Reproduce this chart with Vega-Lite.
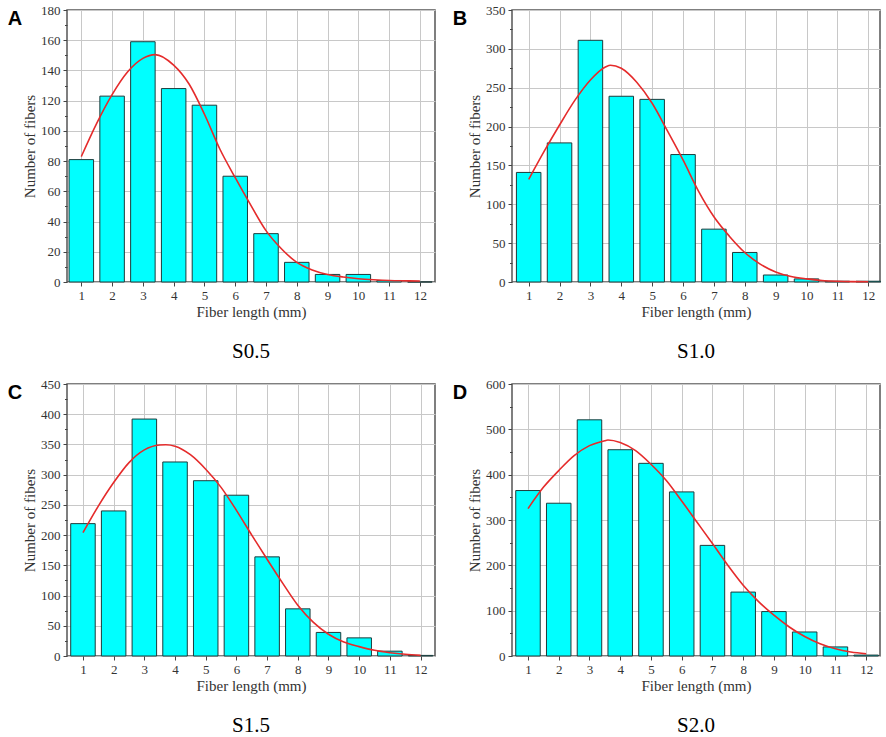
{
  "$schema": "https://vega.github.io/schema/vega-lite/v6.json",
  "background": "white",
  "padding": {"left": 7, "top": 3, "right": 1, "bottom": 1},
  "columns": 2,
  "spacing": {"row": 14, "column": 16},
  "datasets": {
    "barsA": [
      {"length": 1, "count": 81}, {"length": 2, "count": 123}, {"length": 3, "count": 159}, {"length": 4, "count": 128},
      {"length": 5, "count": 117}, {"length": 6, "count": 70}, {"length": 7, "count": 32}, {"length": 8, "count": 13},
      {"length": 9, "count": 5}, {"length": 10, "count": 5}, {"length": 11, "count": 1}, {"length": 12, "count": 0}
    ],
    "fitA": [
      {"length": 1, "count": 83}, {"length": 1.5, "count": 105}, {"length": 2, "count": 124}, {"length": 2.5, "count": 139},
      {"length": 3, "count": 148}, {"length": 3.4, "count": 150.5}, {"length": 4, "count": 143.5}, {"length": 4.5, "count": 131},
      {"length": 5, "count": 111}, {"length": 5.5, "count": 88}, {"length": 6, "count": 69}, {"length": 6.5, "count": 51},
      {"length": 7, "count": 34}, {"length": 7.5, "count": 22}, {"length": 8, "count": 13}, {"length": 8.5, "count": 8},
      {"length": 9, "count": 5}, {"length": 9.5, "count": 3.3}, {"length": 10, "count": 2.2}, {"length": 10.5, "count": 1.5},
      {"length": 11, "count": 1}, {"length": 11.5, "count": 0.8}, {"length": 12, "count": 0.7}
    ],
    "barsB": [
      {"length": 1, "count": 141}, {"length": 2, "count": 179}, {"length": 3, "count": 311}, {"length": 4, "count": 239},
      {"length": 5, "count": 235}, {"length": 6, "count": 164}, {"length": 7, "count": 68}, {"length": 8, "count": 38},
      {"length": 9, "count": 9}, {"length": 10, "count": 4}, {"length": 11, "count": 1}, {"length": 12, "count": 1}
    ],
    "fitB": [
      {"length": 1, "count": 132}, {"length": 1.5, "count": 168}, {"length": 2, "count": 202}, {"length": 2.5, "count": 234},
      {"length": 3, "count": 260}, {"length": 3.5, "count": 277}, {"length": 3.65, "count": 279}, {"length": 4, "count": 275},
      {"length": 4.5, "count": 257}, {"length": 5, "count": 230}, {"length": 5.5, "count": 194}, {"length": 6, "count": 157},
      {"length": 6.5, "count": 117}, {"length": 7, "count": 84}, {"length": 7.5, "count": 59}, {"length": 8, "count": 38},
      {"length": 8.5, "count": 23}, {"length": 9, "count": 13}, {"length": 9.5, "count": 7}, {"length": 10, "count": 4},
      {"length": 10.5, "count": 2}, {"length": 11, "count": 1}, {"length": 11.5, "count": 0.5}, {"length": 12, "count": 0.3}
    ],
    "barsC": [
      {"length": 1, "count": 219}, {"length": 2, "count": 240}, {"length": 3, "count": 392}, {"length": 4, "count": 321},
      {"length": 5, "count": 290}, {"length": 6, "count": 266}, {"length": 7, "count": 164}, {"length": 8, "count": 78},
      {"length": 9, "count": 39}, {"length": 10, "count": 30}, {"length": 11, "count": 8}, {"length": 12, "count": 1}
    ],
    "fitC": [
      {"length": 1, "count": 204}, {"length": 1.5, "count": 248}, {"length": 2, "count": 287}, {"length": 2.5, "count": 320},
      {"length": 3, "count": 341}, {"length": 3.5, "count": 349}, {"length": 3.7, "count": 349.5}, {"length": 4, "count": 347},
      {"length": 4.5, "count": 333}, {"length": 5, "count": 309}, {"length": 5.5, "count": 279}, {"length": 6, "count": 241},
      {"length": 6.5, "count": 200}, {"length": 7, "count": 160}, {"length": 7.5, "count": 121}, {"length": 8, "count": 84},
      {"length": 8.5, "count": 56}, {"length": 9, "count": 36}, {"length": 9.5, "count": 23}, {"length": 10, "count": 15.5},
      {"length": 10.5, "count": 9.4}, {"length": 11, "count": 5.5}, {"length": 11.5, "count": 2.8}, {"length": 12, "count": 1.1}
    ],
    "barsD": [
      {"length": 1, "count": 365}, {"length": 2, "count": 337}, {"length": 3, "count": 521}, {"length": 4, "count": 455},
      {"length": 5, "count": 425}, {"length": 6, "count": 362}, {"length": 7, "count": 244}, {"length": 8, "count": 141},
      {"length": 9, "count": 98}, {"length": 10, "count": 53}, {"length": 11, "count": 20}, {"length": 12, "count": 2}
    ],
    "fitD": [
      {"length": 1, "count": 325}, {"length": 1.5, "count": 372}, {"length": 2, "count": 409}, {"length": 2.5, "count": 442},
      {"length": 3, "count": 464}, {"length": 3.5, "count": 475}, {"length": 3.6, "count": 476.5}, {"length": 4, "count": 471},
      {"length": 4.5, "count": 453}, {"length": 5, "count": 423}, {"length": 5.5, "count": 387}, {"length": 6, "count": 342},
      {"length": 6.5, "count": 295}, {"length": 7, "count": 248}, {"length": 7.5, "count": 200}, {"length": 8, "count": 156},
      {"length": 8.5, "count": 120}, {"length": 9, "count": 90}, {"length": 9.5, "count": 64}, {"length": 10, "count": 43},
      {"length": 10.5, "count": 27}, {"length": 11, "count": 16}, {"length": 11.5, "count": 9}, {"length": 12, "count": 5}
    ]
  },
  "config": {
    "view": {"stroke": "#555555", "strokeWidth": 1.5},
    "axis": {
      "labelFont": "Liberation Serif", "labelFontSize": 13, "labelColor": "#333333", "labelPadding": 3,
      "titleFont": "Liberation Serif", "titleFontSize": 15, "titleFontWeight": "normal", "titleColor": "#333333",
      "domain": false, "ticks": true, "tickSize": 4, "tickColor": "#444444",
      "grid": true, "gridColor": "#c8c8c8", "gridWidth": 1
    },
    "axisX": {"titlePadding": 2},
    "axisY": {"titlePadding": 3},
    "bar": {"size": 24.5, "fill": "#00ffff", "stroke": "#1d3b3b", "strokeWidth": 1},
    "line": {"color": "#e52b2b", "strokeWidth": 1.6, "interpolate": "monotone"}
  },
  "concat": [
    {
      "title": {"text": "A", "anchor": "start", "frame": "bounds", "font": "Liberation Sans", "fontSize": 20, "fontWeight": "bold", "color": "#000000", "offset": 0, "dx": -14, "dy": 26},
      "vconcat": [{
        "width": 368, "height": 272,
        "title": {"text": "S0.5", "orient": "bottom", "anchor": "middle", "frame": "group", "font": "Liberation Serif", "fontSize": 21, "fontWeight": "normal", "color": "#000000", "offset": 22},
        "encoding": {
          "x": {"field": "length", "type": "quantitative", "title": "Fiber length (mm)", "scale": {"domain": [0.535, 12.49], "nice": false, "padding": 0}, "axis": {"values": [1, 2, 3, 4, 5, 6, 7, 8, 9, 10, 11, 12]}}
        },
        "layer": [
          {"data": {"name": "barsA"}, "mark": "bar",
           "encoding": {"y": {"field": "count", "type": "quantitative", "title": "Number of fibers", "scale": {"domain": [0, 180], "nice": false}, "axis": {"values": [0, 20, 40, 60, 80, 100, 120, 140, 160, 180]}}}},
          {"data": {"name": "fitA"}, "mark": "line",
           "encoding": {"y": {"field": "count", "type": "quantitative", "axis": {"orient": "left", "title": null, "labels": false, "grid": false, "tickSize": 2.5, "values": [10, 30, 50, 70, 90, 110, 130, 150, 170]}}}}
        ],
        "resolve": {"axis": {"y": "independent"}}
      }]
    },
    {
      "title": {"text": "B", "anchor": "start", "frame": "bounds", "font": "Liberation Sans", "fontSize": 20, "fontWeight": "bold", "color": "#000000", "offset": 0, "dx": -14, "dy": 26},
      "vconcat": [{
        "width": 368, "height": 272,
        "title": {"text": "S1.0", "orient": "bottom", "anchor": "middle", "frame": "group", "font": "Liberation Serif", "fontSize": 21, "fontWeight": "normal", "color": "#000000", "offset": 22},
        "encoding": {
          "x": {"field": "length", "type": "quantitative", "title": "Fiber length (mm)", "scale": {"domain": [0.46, 12.38], "nice": false, "padding": 0}, "axis": {"values": [1, 2, 3, 4, 5, 6, 7, 8, 9, 10, 11, 12]}}
        },
        "layer": [
          {"data": {"name": "barsB"}, "mark": "bar",
           "encoding": {"y": {"field": "count", "type": "quantitative", "title": "Number of fibers", "scale": {"domain": [0, 350], "nice": false}, "axis": {"values": [0, 50, 100, 150, 200, 250, 300, 350]}}}},
          {"data": {"name": "fitB"}, "mark": "line",
           "encoding": {"y": {"field": "count", "type": "quantitative", "axis": {"orient": "left", "title": null, "labels": false, "grid": false, "tickSize": 2.5, "values": [25, 75, 125, 175, 225, 275, 325]}}}}
        ],
        "resolve": {"axis": {"y": "independent"}}
      }]
    },
    {
      "title": {"text": "C", "anchor": "start", "frame": "bounds", "font": "Liberation Sans", "fontSize": 20, "fontWeight": "bold", "color": "#000000", "offset": 0, "dx": -14, "dy": 26},
      "vconcat": [{
        "width": 368, "height": 272,
        "title": {"text": "S1.5", "orient": "bottom", "anchor": "middle", "frame": "group", "font": "Liberation Serif", "fontSize": 21, "fontWeight": "normal", "color": "#000000", "offset": 22},
        "encoding": {
          "x": {"field": "length", "type": "quantitative", "title": "Fiber length (mm)", "scale": {"domain": [0.48, 12.47], "nice": false, "padding": 0}, "axis": {"values": [1, 2, 3, 4, 5, 6, 7, 8, 9, 10, 11, 12]}}
        },
        "layer": [
          {"data": {"name": "barsC"}, "mark": "bar",
           "encoding": {"y": {"field": "count", "type": "quantitative", "title": "Number of fibers", "scale": {"domain": [0, 450], "nice": false}, "axis": {"values": [0, 50, 100, 150, 200, 250, 300, 350, 400, 450]}}}},
          {"data": {"name": "fitC"}, "mark": "line",
           "encoding": {"y": {"field": "count", "type": "quantitative", "axis": {"orient": "left", "title": null, "labels": false, "grid": false, "tickSize": 2.5, "values": [25, 75, 125, 175, 225, 275, 325, 375, 425]}}}}
        ],
        "resolve": {"axis": {"y": "independent"}}
      }]
    },
    {
      "title": {"text": "D", "anchor": "start", "frame": "bounds", "font": "Liberation Sans", "fontSize": 20, "fontWeight": "bold", "color": "#000000", "offset": 0, "dx": -14, "dy": 26},
      "vconcat": [{
        "width": 368, "height": 272,
        "title": {"text": "S2.0", "orient": "bottom", "anchor": "middle", "frame": "group", "font": "Liberation Serif", "fontSize": 21, "fontWeight": "normal", "color": "#000000", "offset": 22},
        "encoding": {
          "x": {"field": "length", "type": "quantitative", "title": "Fiber length (mm)", "scale": {"domain": [0.48, 12.45], "nice": false, "padding": 0}, "axis": {"values": [1, 2, 3, 4, 5, 6, 7, 8, 9, 10, 11, 12]}}
        },
        "layer": [
          {"data": {"name": "barsD"}, "mark": "bar",
           "encoding": {"y": {"field": "count", "type": "quantitative", "title": "Number of fibers", "scale": {"domain": [0, 600], "nice": false}, "axis": {"values": [0, 100, 200, 300, 400, 500, 600]}}}},
          {"data": {"name": "fitD"}, "mark": "line",
           "encoding": {"y": {"field": "count", "type": "quantitative", "axis": {"orient": "left", "title": null, "labels": false, "grid": false, "tickSize": 2.5, "values": [50, 150, 250, 350, 450, 550]}}}}
        ],
        "resolve": {"axis": {"y": "independent"}}
      }]
    }
  ]
}
